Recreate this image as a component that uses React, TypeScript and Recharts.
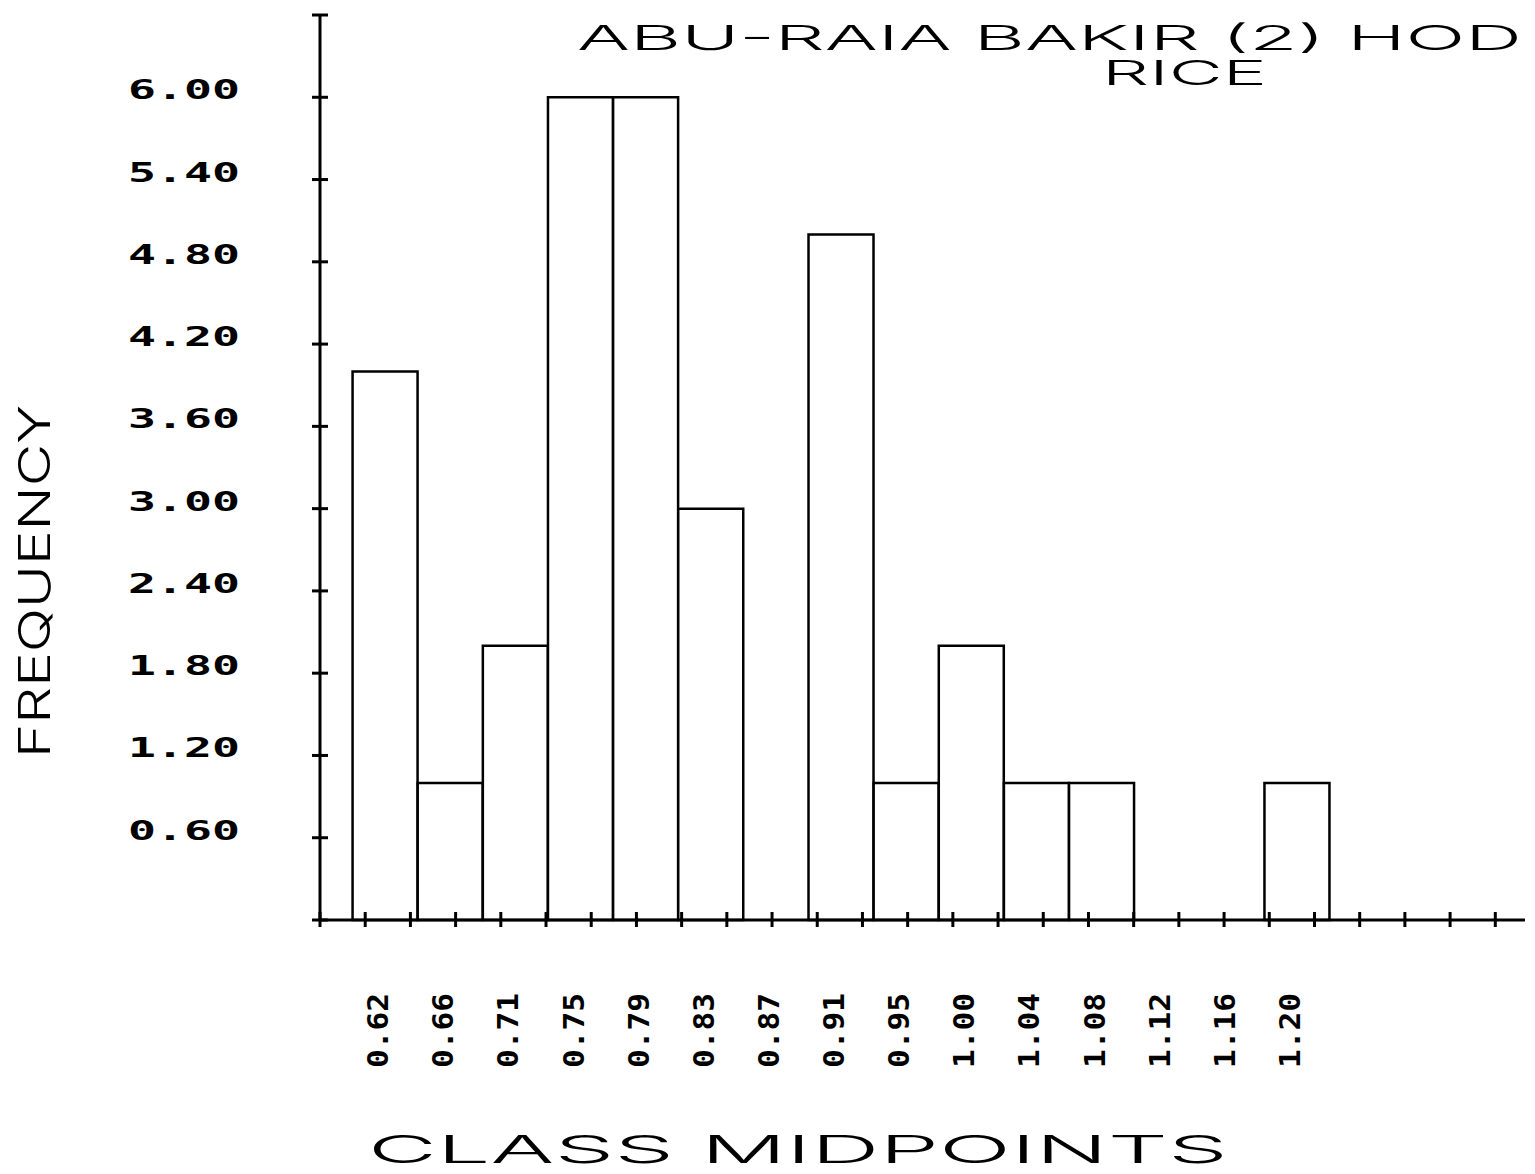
import { Bar, ComposedChart, Customized, XAxis, YAxis } from "recharts";

// Histogram of class midpoints.
const MIDPOINTS = [
  "0.62", "0.66", "0.71", "0.75", "0.79", "0.83", "0.87", "0.91",
  "0.95", "1.00", "1.04", "1.08", "1.12", "1.16", "1.20",
];
const FREQUENCIES = [4, 1, 2, 6, 6, 3, 0, 5, 1, 2, 1, 1, 0, 0, 1];

const Y_TICKS = [0, 0.6, 1.2, 1.8, 2.4, 3.0, 3.6, 4.2, 4.8, 5.4, 6.0, 6.6];
const Y_LABELLED_MIN = 0.6;
const Y_LABELLED_MAX = 6.0;

// plain tick marks along the x axis, not tied to the bins
const X_MARK_START = -1;
const X_MARK_STEP = 0.694;
const X_MARK_COUNT = 27;
const X_MARKS = Array.from({ length: X_MARK_COUNT }, (_, k) => X_MARK_START + k * X_MARK_STEP);
const X_DOMAIN: [number, number] = [-1, 17.5];

const TITLE = "ABU-RAIA BAKIR (2) HOD";
const SUBTITLE = "RICE";
const X_TITLE = "CLASS MIDPOINTS";
const Y_TITLE = "FREQUENCY";

const data = MIDPOINTS.map((mid, i) => ({ pos: i, mid, freq: FREQUENCIES[i] }));
const BIN_TICKS = data.map((d) => d.pos);

const INK = "#000";
const MONO = "'DejaVu Sans Mono', monospace";
const PLOT = "Inter, 'DejaVu Sans', sans-serif";

function XMark({ x, y }: any) {
  return <line x1={x} x2={x} y1={y - 8} y2={y + 7} stroke={INK} strokeWidth={3} />;
}

function YMark({ x, y, payload }: any) {
  const v = payload.value;
  const labelled = v >= Y_LABELLED_MIN - 1e-6 && v <= Y_LABELLED_MAX + 1e-6;
  return (
    <g>
      <line x1={x - 8} x2={x + 8} y1={y} y2={y} stroke={INK} strokeWidth={3} />
      {labelled && (
        <text
          x={x - 192}
          y={y + 2}
          textLength={112}
          lengthAdjust="spacingAndGlyphs"
          fontFamily={MONO}
          fontWeight="bold"
          fontSize={26}
          fill={INK}
        >
          {v.toFixed(2)}
        </text>
      )}
    </g>
  );
}

function MidTick({ x, y, payload }: any) {
  const label = MIDPOINTS[payload.value];
  return (
    <text
      transform={`translate(${x + 3},${y + 147}) rotate(-90)`}
      textLength={75}
      lengthAdjust="spacingAndGlyphs"
      fontFamily={MONO}
      fontWeight="bold"
      fontSize={28}
      fill={INK}
    >
      {label}
    </text>
  );
}

function Titles() {
  const common = {
    fontFamily: PLOT,
    fontWeight: 300,
    fill: INK,
    lengthAdjust: "spacingAndGlyphs" as const,
  };
  return (
    <g>
      <text x={577} y={50} fontSize={34} textLength={945} {...common}>
        {TITLE}
      </text>
      <text x={1102} y={85} fontSize={34} textLength={165} {...common}>
        {SUBTITLE}
      </text>
      <text x={368} y={1163} fontSize={38} textLength={860} {...common}>
        {X_TITLE}
      </text>
      <text transform="translate(50,758) rotate(-90)" fontSize={44} textLength={353} {...common}>
        {Y_TITLE}
      </text>
    </g>
  );
}

export default function App() {
  return (
    <div style={{ position: "absolute", left: 0, top: 0, background: "#fff" }}>
      <ComposedChart
        width={1535}
        height={1174}
        data={data}
        margin={{ top: 15, right: 10, bottom: 0, left: 0 }}
        barCategoryGap={0}
        barGap={0}
      >
        <XAxis
          xAxisId="marks"
          dataKey="pos"
          type="number"
          domain={X_DOMAIN}
          ticks={X_MARKS}
          interval={0}
          tick={<XMark />}
          tickLine={false}
          tickSize={0}
          tickMargin={0}
          axisLine={{ stroke: INK, strokeWidth: 3 }}
          height={1}
        />
        <XAxis
          xAxisId="mids"
          dataKey="pos"
          type="number"
          domain={X_DOMAIN}
          ticks={BIN_TICKS}
          interval={0}
          tick={<MidTick />}
          tickLine={false}
          tickSize={0}
          tickMargin={0}
          axisLine={false}
          height={253}
        />
        <YAxis
          type="number"
          domain={[0, 6.6]}
          ticks={Y_TICKS}
          interval={0}
          tick={<YMark />}
          tickLine={false}
          tickSize={0}
          tickMargin={0}
          axisLine={{ stroke: INK, strokeWidth: 3 }}
          width={320}
        />
        <Bar
          xAxisId="marks"
          dataKey="freq"
          fill="#fff"
          stroke={INK}
          strokeWidth={2.5}
          isAnimationActive={false}
        />
        <Customized component={<Titles />} />
      </ComposedChart>
    </div>
  );
}
